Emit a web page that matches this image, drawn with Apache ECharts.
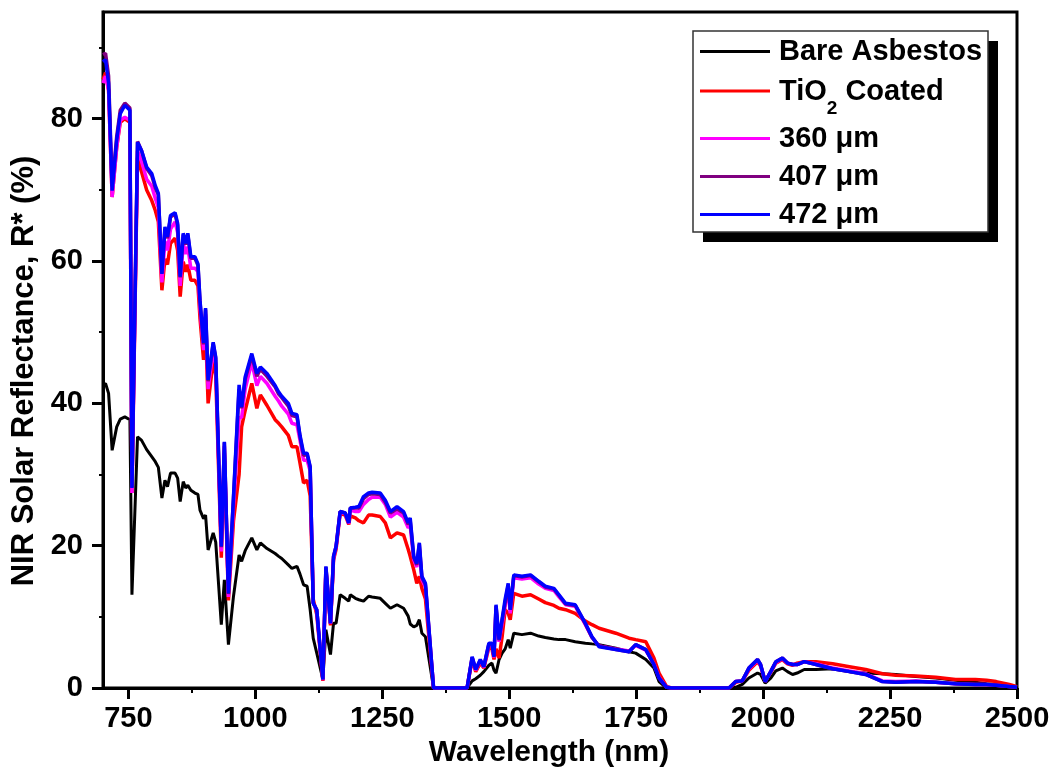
<!DOCTYPE html>
<html>
<head>
<meta charset="utf-8">
<title>NIR Solar Reflectance</title>
<script src="https://cdn.jsdelivr.net/npm/echarts@6/dist/echarts.min.js"></script>
<style>
html, body { margin: 0; padding: 0; background: #fff; }
#chart { width: 1055px; height: 774px; }
</style>
</head>
<body>
<div id="chart"></div>
<script>
// wavelength (nm)
var wavelength = [700, 705, 711, 718, 727, 734, 743, 753, 757, 768,
    776, 786, 796, 803, 809, 816, 822, 827, 833, 842,
    847, 852, 858, 863, 867, 873, 881, 887, 891, 898,
    902, 907, 917, 922, 933, 939, 947, 957, 968, 973,
    980, 993, 1003, 1010, 1023, 1039, 1046, 1052, 1065, 1072,
    1082, 1088, 1095, 1102, 1108, 1114, 1121, 1133, 1139, 1148,
    1154, 1159, 1167, 1177, 1184, 1187, 1197, 1204, 1213, 1223,
    1230, 1246, 1256, 1266, 1279, 1292, 1301, 1305, 1312, 1318,
    1323, 1328, 1335, 1351, 1417, 1427, 1434, 1443, 1450, 1460,
    1466, 1470, 1474, 1480, 1486, 1492, 1498, 1502, 1509, 1525,
    1542, 1558, 1571, 1588, 1598, 1611, 1630, 1650, 1663, 1677,
    1710, 1736, 1749, 1769, 1785, 1795, 1810, 1820, 1933, 1946,
    1959, 1972, 1989, 1995, 2004, 2015, 2025, 2038, 2048, 2058,
    2067, 2081, 2104, 2137, 2170, 2202, 2235, 2261, 2301, 2340,
    2379, 2418, 2440, 2459, 2485, 2500];

// reflectance R* (%) per sample
var bareAsbestos = [42.6, 42.8, 41.4, 33.4, 36.7, 37.8, 38.1, 37.7, 13.1, 35.3,
    34.8, 33.5, 32.5, 31.8, 31.0, 26.7, 29.2, 28.3, 30.2, 30.2,
    29.5, 26.2, 29.0, 28.1, 28.5, 27.8, 27.4, 27.2, 25.0, 23.8,
    24.3, 19.4, 21.8, 20.5, 8.9, 15.2, 6.1, 12.9, 18.7, 17.8,
    19.3, 21.1, 19.4, 20.4, 19.6, 18.9, 18.5, 18.2, 17.3, 16.8,
    17.1, 16.0, 14.5, 14.3, 11.0, 7.0, 4.9, 1.2, 8.2, 4.7,
    9.1, 9.1, 13.1, 12.6, 12.2, 13.1, 12.6, 12.4, 12.2, 12.9,
    12.8, 12.6, 11.9, 11.2, 11.7, 11.2, 10.1, 9.0, 8.6, 8.8,
    9.6, 7.7, 7.2, 0, 0, 1.0, 1.3, 1.8, 2.3, 3.2,
    3.5, 2.5, 2.1, 4.0, 4.9, 5.5, 6.8, 5.6, 7.7, 7.5,
    7.7, 7.3, 7.1, 6.9, 6.8, 6.8, 6.5, 6.3, 6.2, 6.1,
    5.6, 5.1, 4.9, 4.0, 2.8, 0.9, 0, 0, 0, 0.1,
    0.5, 1.4, 2.1, 1.9, 0.7, 1.4, 2.4, 2.8, 2.3, 1.9,
    2.1, 2.6, 2.6, 2.7, 2.3, 2.1, 2.0, 1.9, 1.6, 1.4,
    1.1, 0.8, 0.6, 0.5, 0.2, 0.1];

var tio2Coated = [85.5, 86.5, 84.0, 69.0, 76.0, 79.5, 80.0, 79.5, 27.4, 74.5,
    72.5, 70.0, 68.5, 67.1, 65.5, 55.9, 60.3, 59.5, 62.5, 63.2,
    61.5, 55.0, 59.9, 58.5, 59.5, 57.3, 57.3, 56.5, 52.0, 46.1,
    50.5, 40.0, 46.0, 44.0, 18.3, 33.0, 12.3, 23.5, 30.0, 36.7,
    39.0, 42.8, 39.3, 41.2, 39.7, 37.7, 37.2, 36.7, 35.5, 33.9,
    33.9, 31.6, 28.8, 29.2, 27.0, 12.5, 10.3, 1.0, 16.5, 8.8,
    18.0, 19.5, 24.5, 24.3, 23.0, 24.2, 23.9, 23.5, 23.2, 24.3,
    24.3, 24.1, 23.2, 21.1, 21.8, 21.5, 19.5, 18.5, 16.6, 14.7,
    15.7, 14.0, 12.5, 0, 0, 4.0, 2.3, 3.5, 2.8, 5.7,
    5.5, 4.0, 5.5, 4.2, 7.2, 11.0, 10.5, 9.6, 13.3, 12.9,
    13.1, 12.5, 12.0, 11.6, 11.2, 11.0, 10.5, 9.4, 8.9, 8.4,
    7.7, 7.0, 6.8, 6.5, 4.2, 2.1, 0.2, 0, 0, 0.8,
    1.0, 2.5, 3.7, 3.1, 1.0, 2.2, 3.5, 4.0, 3.4, 3.2,
    3.5, 3.7, 3.7, 3.4, 3.0, 2.6, 2.0, 1.8, 1.7, 1.5,
    1.2, 1.2, 1.1, 0.9, 0.5, 0.2];

var coat360 = [85.0, 86.0, 84.0, 69.0, 76.0, 79.8, 80.2, 79.8, 27.4, 75.5,
    74.0, 71.5, 70.5, 68.8, 67.5, 57.0, 62.8, 61.5, 64.5, 65.5,
    64.0, 56.5, 62.5, 61.0, 62.0, 59.0, 59.0, 58.5, 53.5, 47.5,
    52.5, 42.0, 47.5, 45.5, 19.2, 34.0, 12.8, 25.5, 38.0, 38.0,
    42.0, 45.8, 42.5, 43.8, 42.8, 41.0, 40.3, 39.6, 38.5, 37.2,
    37.0, 34.8, 32.0, 32.0, 30.5, 12.0, 10.8, 1.1, 16.8, 9.0,
    18.3, 19.8, 24.7, 24.5, 23.1, 25.0, 24.8, 24.8, 25.8, 26.5,
    26.8, 26.8, 25.8, 24.0, 24.7, 24.0, 22.5, 22.8, 18.0, 17.0,
    19.5, 15.2, 14.2, 0, 0, 4.2, 2.5, 3.8, 2.9, 6.0,
    6.0, 4.3, 11.0, 6.5, 9.0, 11.5, 14.0, 10.5, 15.5, 15.3,
    15.5, 14.6, 14.0, 13.7, 12.8, 11.7, 11.5, 8.9, 7.1, 5.9,
    5.5, 5.2, 6.0, 5.3, 3.4, 1.5, 0.1, 0, 0, 0.9,
    1.0, 2.7, 3.9, 3.2, 0.9, 2.3, 3.6, 4.1, 3.5, 3.3,
    3.3, 3.7, 3.4, 2.8, 2.4, 2.0, 1.0, 0.9, 1.0, 0.8,
    0.6, 0.5, 0.5, 0.4, 0.2, 0.1];

var coat407 = [89.0, 89.2, 86.0, 70.5, 77.5, 81.2, 82.2, 81.5, 28.2, 76.8,
    75.5, 73.0, 72.0, 70.3, 69.3, 58.3, 64.5, 63.2, 66.2, 66.6,
    65.0, 57.7, 63.7, 62.3, 63.7, 60.4, 60.4, 59.4, 54.3, 48.3,
    53.2, 43.1, 48.4, 46.3, 19.8, 34.5, 13.2, 26.7, 42.0, 39.3,
    43.4, 46.7, 43.8, 44.8, 43.8, 42.3, 41.3, 40.8, 39.6, 38.3,
    38.1, 35.3, 32.7, 32.8, 31.0, 12.0, 11.0, 1.2, 17.0, 9.1,
    18.5, 19.9, 24.8, 24.6, 23.2, 25.3, 25.3, 25.3, 26.6, 27.2,
    27.3, 27.2, 26.1, 24.6, 25.2, 24.6, 23.0, 23.5, 18.3, 17.3,
    20.2, 15.5, 14.5, 0, 0, 4.3, 2.6, 3.9, 3.0, 6.2,
    6.2, 4.4, 11.5, 6.7, 9.5, 12.0, 14.5, 11.0, 15.8, 15.6,
    15.8, 14.9, 14.2, 13.9, 13.0, 11.8, 11.6, 9.0, 7.1, 5.9,
    5.4, 5.1, 6.1, 5.4, 3.3, 1.4, 0.1, 0, 0, 0.9,
    1.0, 2.8, 4.0, 3.3, 0.9, 2.3, 3.7, 4.2, 3.5, 3.3,
    3.3, 3.7, 3.3, 2.7, 2.3, 1.9, 0.9, 0.8, 0.9, 0.8,
    0.6, 0.5, 0.5, 0.4, 0.2, 0.1];

var coat472 = [88.0, 88.3, 85.0, 69.9, 77.0, 80.7, 81.9, 81.2, 28.1, 76.7,
    75.5, 73.2, 72.3, 70.6, 69.5, 58.2, 64.8, 63.4, 66.4, 66.8,
    65.3, 57.8, 63.9, 62.5, 63.9, 60.6, 60.6, 59.6, 54.5, 48.5,
    53.4, 43.3, 48.6, 46.5, 19.9, 34.6, 13.3, 26.9, 42.6, 39.5,
    43.7, 47.0, 44.2, 45.1, 44.2, 42.5, 41.6, 41.0, 40.0, 38.6,
    38.4, 35.5, 33.0, 33.0, 31.1, 11.9, 11.0, 1.2, 17.1, 9.1,
    18.5, 19.9, 24.8, 24.6, 23.2, 25.3, 25.4, 25.5, 26.9, 27.4,
    27.5, 27.4, 26.4, 24.8, 25.5, 24.8, 23.2, 23.9, 18.5, 17.5,
    20.4, 15.7, 14.7, 0, 0, 4.4, 2.6, 4.0, 3.0, 6.3,
    6.3, 4.4, 11.7, 6.8, 9.7, 12.5, 14.7, 11.0, 15.9, 15.7,
    15.9, 15.0, 14.3, 14.0, 13.1, 11.9, 11.7, 9.1, 7.2, 5.8,
    5.4, 5.1, 6.1, 5.4, 3.3, 1.4, 0.1, 0, 0, 0.9,
    1.0, 2.8, 4.0, 3.3, 0.9, 2.3, 3.7, 4.2, 3.5, 3.3,
    3.3, 3.7, 3.3, 2.7, 2.3, 1.9, 0.9, 0.8, 0.9, 0.8,
    0.6, 0.5, 0.5, 0.4, 0.2, 0.1];

var seriesNames = ["Bare Asbestos", "TiO2 Coated", "360 \u03bcm", "407 \u03bcm", "472 \u03bcm"];
var seriesColors = ["#000000", "#ff0000", "#ff00ff", "#800080", "#0000ff"];
var seriesValues = [bareAsbestos, tio2Coated, coat360, coat407, coat472];

// tick labels
var xMajorTicks = [750, 1000, 1250, 1500, 1750, 2000, 2250, 2500];
var xMinorTicks = [875, 1125, 1375, 1625, 1875, 2125, 2375];
var yMajorTicks = [0, 20, 40, 60, 80];
var yMinorTicks = [10, 30, 50, 70, 90];

// legend rows: top of each entry in px
var legendRowTop = [37, 77, 124, 162, 200];

var FONT = '"Liberation Sans", Arial, sans-serif';

function pairs(values) {
    var out = [];
    for (var i = 0; i < wavelength.length; i++) {
        out.push([wavelength[i], values[i]]);
    }
    return out;
}

var chart = echarts.init(document.getElementById("chart"), null, { renderer: "canvas" });

var series = seriesNames.map(function (name, i) {
    return {
        name: name,
        type: "line",
        symbol: "none",
        showSymbol: false,
        smooth: false,
        xAxisIndex: 0,
        yAxisIndex: 0,
        z: 2 + i,
        lineStyle: { color: seriesColors[i], width: i === 0 ? 3 : 3.5 },
        itemStyle: { color: seriesColors[i] },
        data: pairs(seriesValues[i])
    };
});

var labelText = { fontSize: 29, fontWeight: "bold", color: "#000", fontFamily: FONT };

// one legend per row so the rows can sit where the reference puts them
var legends = seriesNames.map(function (name, i) {
    return {
        orient: "vertical",
        left: 700,
        top: legendRowTop[i],
        padding: 0,
        icon: "rect",
        itemWidth: 70,
        itemHeight: 3,
        selectedMode: false,
        z: 10,
        data: [name],
        formatter: function (n) {
            if (n === "TiO2 Coated") {
                return "{a|TiO}{s|2}{a| Coated}";
            }
            return n;
        },
        textStyle: {
            fontSize: 29,
            fontWeight: "bold",
            color: "#000",
            fontFamily: FONT,
            padding: [0, 0, 0, 4],
            rich: {
                a: { fontSize: 29, fontWeight: "bold", color: "#000", fontFamily: FONT, padding: [13, 0, 0, 0], verticalAlign: "top" },
                s: { fontSize: 19, fontWeight: "bold", color: "#000", fontFamily: FONT, padding: [35, 0, 0, 0], verticalAlign: "top" }
            }
        }
    };
});

var option = {
    animation: false,
    backgroundColor: "#fff",
    grid: {
        left: 103,
        right: 38,
        top: 12,
        bottom: 86,
        show: true,
        borderColor: "#000",
        borderWidth: 3,
        containLabel: false
    },
    legend: legends,
    graphic: [
        {
            type: "rect",
            z: 8,
            shape: { x: 703, y: 41, width: 295, height: 201 },
            style: { fill: "#000" }
        },
        {
            type: "rect",
            z: 9,
            shape: { x: 693, y: 31, width: 295, height: 201 },
            style: { fill: "#fff", stroke: "#333", lineWidth: 1.5 }
        }
    ],
    xAxis: [
        {
            type: "value",
            min: 700,
            max: 2500,
            name: "Wavelength (nm)",
            nameLocation: "middle",
            nameGap: 44,
            nameTextStyle: { fontSize: 30, fontWeight: "bold", color: "#000", fontFamily: FONT, padding: [0, 22, 0, 0] },
            axisLine: { show: true, onZero: false, lineStyle: { color: "#000", width: 3 } },
            axisTick: { show: true, customValues: xMajorTicks, length: 11, lineStyle: { color: "#000", width: 3 } },
            axisLabel: Object.assign({
                customValues: xMajorTicks,
                margin: 16,
                formatter: function (v) { return String(v); }
            }, labelText),
            splitLine: { show: false }
        },
        {
            type: "value",
            min: 700,
            max: 2500,
            position: "bottom",
            axisLine: { show: false },
            axisLabel: { show: false },
            axisTick: { show: true, customValues: xMinorTicks, length: 5, lineStyle: { color: "#000", width: 2 } },
            splitLine: { show: false }
        }
    ],
    yAxis: [
        {
            type: "value",
            min: 0,
            max: 95,
            name: "NIR Solar Reflectance, R* (%)",
            nameLocation: "middle",
            nameGap: 60,
            nameTextStyle: { fontSize: 31, fontWeight: "bold", color: "#000", fontFamily: FONT, padding: [0, 42, 0, 0] },
            axisLine: { show: true, onZero: false, lineStyle: { color: "#000", width: 3 } },
            axisTick: { show: true, customValues: yMajorTicks, length: 11, lineStyle: { color: "#000", width: 3 } },
            axisLabel: Object.assign({
                customValues: yMajorTicks,
                margin: 20,
                formatter: function (v) { return String(v); }
            }, labelText),
            splitLine: { show: false }
        },
        {
            type: "value",
            min: 0,
            max: 95,
            position: "left",
            axisLine: { show: false },
            axisLabel: { show: false },
            axisTick: { show: true, customValues: yMinorTicks, length: 4, lineStyle: { color: "#000", width: 2 } },
            splitLine: { show: false }
        }
    ],
    series: series
};

chart.setOption(option);
</script>
</body>
</html>
